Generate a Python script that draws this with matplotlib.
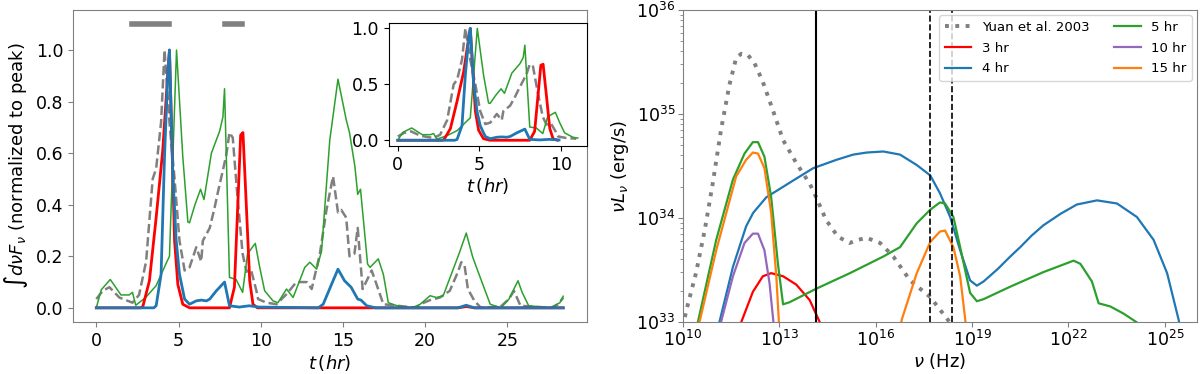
import numpy as np
import matplotlib
matplotlib.use('Agg')
import matplotlib.pyplot as plt

# ---- left panel: light curves (normalized to peak) ----
t_green = [0, 0.3, 0.85, 1.5, 2.0, 2.2, 2.4, 3.0, 3.64, 4.3, 4.45, 4.88, 5.26, 5.57,
           5.67, 6.0, 6.34, 6.55, 7.0, 7.5, 7.7, 7.8, 8.1, 8.5, 8.9, 9.2, 9.67, 9.94,
           10.24, 10.75, 11.05, 11.57, 11.97, 12.68, 12.99, 13.4, 13.7, 14.2, 14.7,
           15.2, 15.4, 15.73, 15.9, 16.07, 16.5, 16.65, 17.15, 17.46, 17.76, 18.3,
           19.2, 19.7, 20.3, 20.7, 21.1, 22.1, 22.5, 22.9, 23.35, 23.96, 24.6, 25.1,
           25.5, 25.65, 25.9, 26.3, 27.6, 28.2, 28.4]
y_green = [0.0, 0.07, 0.11, 0.05, 0.05, 0.06, 0.01, 0.04, 0.086, 0.18, 0.2, 1.0, 0.587,
           0.333, 0.33, 0.40, 0.46, 0.42, 0.6, 0.685, 0.74, 0.85, 0.118, 0.11, 0.06,
           0.21, 0.25, 0.157, 0.066, 0.027, 0.02, 0.073, 0.04, 0.157, 0.177, 0.15,
           0.22, 0.65, 0.887, 0.73, 0.68, 0.548, 0.44, 0.46, 0.17, 0.157, 0.19, 0.13,
           0.02, 0.008, 0.0, 0.014, 0.047, 0.04, 0.047, 0.216, 0.29, 0.196, 0.118,
           0.014, 0.0, 0.034, 0.086, 0.105, 0.06, 0.008, 0.0, 0.02, 0.045]

t_total = [0, 0.39, 0.8, 1.4, 2.2, 2.6, 3.03, 3.43, 3.64, 3.94, 4.15, 4.45, 4.76, 5.06,
           5.37, 5.67, 6.08, 6.38, 6.48, 6.9, 7.2, 7.4, 7.9, 8.1, 8.3, 8.6, 8.9, 9.13,
           9.4, 9.74, 9.84, 10.35, 10.96, 11.57, 12.17, 12.8, 13.1, 13.6, 14.0, 14.4,
           14.7, 14.9, 15.2, 15.4, 15.7, 15.9, 16.2, 16.75, 17.05, 17.46, 19.5, 19.7,
           20.3, 20.9, 21.5, 22.0, 22.2, 22.4, 22.6, 23.0, 23.4, 24.6, 25.1, 25.4,
           25.8, 27.7, 28.1, 28.4]
y_total = [0.034, 0.066, 0.08, 0.04, 0.02, 0.05, 0.18, 0.5, 0.54, 0.72, 1.0, 0.72, 0.5,
           0.26, 0.145, 0.157, 0.235, 0.18, 0.26, 0.31, 0.39, 0.45, 0.59, 0.68, 0.66,
           0.42, 0.21, 0.14, 0.15, 0.066, 0.034, 0.02, 0.014, 0.053, 0.1, 0.1, 0.073,
           0.21, 0.38, 0.51, 0.37, 0.38, 0.35, 0.2, 0.21, 0.31, 0.073, 0.145, 0.09,
           0.014, 0.0, 0.014, 0.03, 0.04, 0.066, 0.14, 0.177, 0.164, 0.073, 0.027, 0.0,
           0.005, 0.034, 0.066, 0.008, 0.0, 0.014, 0.04]

t_red = [0, 2.7, 2.83, 3.23, 3.64, 4.04, 4.35, 4.45, 4.76, 4.96, 5.26, 5.67, 8.1, 8.4,
         8.6, 8.78, 8.92, 9.13, 9.33, 9.53, 9.8, 22.0, 22.5, 23.0, 28.4]
y_red = [0, 0, 0.005, 0.105, 0.35, 0.61, 0.91, 1.0, 0.26, 0.09, 0.014, 0, 0, 0.08,
         0.39, 0.67, 0.68, 0.39, 0.105, 0.014, 0, 0, 0.005, 0, 0]

t_blue = [0, 3.5, 3.64, 3.94, 4.15, 4.35, 4.45, 4.65, 4.86, 5.06, 5.37, 5.67, 6.08,
          6.38, 6.7, 6.9, 7.3, 7.8, 8.1, 8.7, 9.3, 9.9, 13.5, 13.8, 14.4, 14.7, 15.1,
          15.5, 15.9, 16.1, 16.45, 17.0, 22.0, 22.5, 23.0, 28.4]
y_blue = [0, 0, 0.008, 0.13, 0.59, 0.91, 1.0, 0.52, 0.26, 0.13, 0.034, 0.014, 0.027,
          0.03, 0.027, 0.034, 0.066, 0.1, 0.008, 0.003, 0.008, 0.003, 0.0, 0.014,
          0.105, 0.15, 0.105, 0.08, 0.034, 0.03, 0.008, 0.0, 0.0, 0.01, 0.0, 0.0]

# observed flare windows (gray bars)
bar_starts = [2.2, 7.8]
bar_ends = [4.4, 8.85]
bar_level = 1.1
inset_tmax = 11.1

# ---- right panel: SEDs, log10(nu) and log10(nu L_nu) ----
lognu_yuan = [10.0, 10.10, 10.41, 10.68, 10.93, 11.19, 11.45, 11.66, 11.82, 12.02, 12.23,
              12.49, 12.8, 13.12, 13.53, 13.95, 14.15, 14.46, 14.83, 15.19, 15.45,
              15.72, 16.14, 16.55, 17.07, 17.7, 18.1, 18.3, 18.5]
logL_yuan = [32.95, 33.10, 33.47, 33.88, 34.33, 34.85, 35.28, 35.54, 35.58, 35.57, 35.49,
             35.31, 35.04, 34.75, 34.53, 34.33, 34.2, 33.98, 33.82, 33.76, 33.79,
             33.81, 33.76, 33.63, 33.4, 33.24, 33.08, 33.0, 32.85]

lognu_3hr = [11.7, 11.82, 12.18, 12.49, 12.75, 13.12, 13.53, 13.95, 14.26, 14.4]
logL_3hr = [32.8, 33.0, 33.29, 33.44, 33.47, 33.44, 33.36, 33.21, 33.0, 32.85]

lognu_4hr = [11.0, 11.14, 11.56, 11.97, 12.19, 12.6, 13.43, 14.06, 14.78, 15.3, 15.72,
             16.24, 16.76, 17.28, 17.7, 18.0, 18.32, 18.63, 18.94, 19.15, 19.36, 19.8,
             20.19, 20.5, 20.85, 21.22, 21.75, 22.26, 22.89, 23.51, 24.13, 24.65,
             25.07, 25.43, 25.5]
logL_4hr = [32.8, 33.0, 33.53, 33.92, 34.05, 34.2, 34.36, 34.48, 34.56, 34.61, 34.63,
            34.64, 34.61, 34.51, 34.41, 34.24, 34.01, 33.69, 33.4, 33.35, 33.39, 33.51,
            33.63, 33.72, 33.83, 33.93, 34.04, 34.13, 34.17, 34.14, 34.01, 33.79,
            33.47, 33.02, 32.9]

lognu_5hr = [10.4, 10.47, 11.04, 11.56, 11.92, 12.18, 12.34, 12.54, 12.75, 12.96, 13.12,
             13.32, 14.15, 15.2, 16.24, 16.76, 17.28, 17.7, 18.0, 18.16, 18.42, 18.63,
             18.94, 19.15, 19.36, 20.19, 21.22, 22.16, 22.37, 22.73, 22.94, 23.3,
             23.72, 24.11, 24.2]
logL_5hr = [32.9, 33.0, 33.79, 34.37, 34.62, 34.73, 34.73, 34.59, 34.2, 33.56, 33.17,
            33.19, 33.32, 33.47, 33.63, 33.72, 33.95, 34.08, 34.15, 34.14, 34.01, 33.72,
            33.28, 33.2, 33.22, 33.34, 33.48, 33.59, 33.56, 33.39, 33.18, 33.15,
            33.08, 33.0, 32.98]

lognu_10hr = [11.1, 11.19, 11.56, 11.92, 12.18, 12.34, 12.54, 12.7, 12.82, 12.9]
logL_10hr = [32.85, 33.0, 33.44, 33.76, 33.85, 33.85, 33.69, 33.37, 33.0, 32.7]

lognu_15hr = [10.45, 10.52, 11.04, 11.66, 11.97, 12.18, 12.34, 12.54, 12.75, 12.91,
              12.99, 13.05, 14.0, 16.0, 16.7, 16.81, 17.28, 17.7, 18.0, 18.16, 18.42,
              18.63, 18.79, 18.85]
logL_15hr = [32.9, 33.0, 33.69, 34.4, 34.56, 34.63, 34.62, 34.48, 34.05, 33.44, 33.0,
             32.5, 31.0, 31.0, 32.8, 33.02, 33.47, 33.77, 33.87, 33.88, 33.72, 33.44,
             33.02, 32.8]

# reference bands: 2.2 micron, 2 keV, 10 keV
nu_solid = 1.36e14
nu_dashed = [4.8e17, 2.4e18]

plt.rcParams['axes.edgecolor'] = 'gray'
plt.rcParams['xtick.color'] = 'gray'
plt.rcParams['ytick.color'] = 'gray'
plt.rcParams['xtick.labelcolor'] = 'black'
plt.rcParams['ytick.labelcolor'] = 'black'

fig = plt.figure(figsize=(12, 3.74), dpi=100)
ax1 = fig.add_axes([0.0608, 0.139, 0.428, 0.834])
ax2 = fig.add_axes([0.569, 0.139, 0.4285, 0.834])
axin = fig.add_axes([0.324, 0.610, 0.165, 0.329])


def draw_lc(ax, tmax=None):
    def cut(t, y):
        t = np.asarray(t, float)
        y = np.asarray(y, float)
        if tmax is None:
            return t, y
        m = t <= tmax
        return t[m], y[m]
    ax.plot(*cut(t_total, y_total), color='gray', ls='--', lw=1.8)
    ax.plot(*cut(t_green, y_green), color='tab:green', lw=1.1)
    ax.plot(*cut(t_red, y_red), color='red', lw=2)
    ax.plot(*cut(t_blue, y_blue), color='tab:blue', lw=2)


draw_lc(ax1)
for s, e in zip(bar_starts, bar_ends):
    ax1.plot([s, e], [bar_level, bar_level], color='gray', lw=4)
ax1.set_xticks([0, 5, 10, 15, 20, 25])
ax1.set_yticks([0.0, 0.2, 0.4, 0.6, 0.8, 1.0])
ax1.tick_params(labelsize=12.5)
ax1.set_xlabel(r'$t\,(hr)$', fontsize=13, labelpad=2)
ax1.set_ylabel(r'$\int d\nu F_\nu$ (normalized to peak)', fontsize=13)

draw_lc(axin, inset_tmax)
axin.set_xticks([0, 5, 10])
axin.set_yticks([0.0, 0.5, 1.0])
axin.tick_params(labelsize=12.5, colors='black')
for sp in axin.spines.values():
    sp.set_edgecolor('black')
    sp.set_linewidth(0.8)
axin.set_xlabel(r'$t\,(hr)$', fontsize=13, labelpad=2)

# SED panel
ax2.plot(10 ** np.array(lognu_yuan), 10 ** np.array(logL_yuan), color='gray', ls=':',
         lw=2.8, label='Yuan et al. 2003')
ax2.plot(10 ** np.array(lognu_3hr), 10 ** np.array(logL_3hr), color='red', lw=1.6, label='3 hr')
ax2.plot(10 ** np.array(lognu_4hr), 10 ** np.array(logL_4hr), color='tab:blue', lw=1.6, label='4 hr')
ax2.plot(10 ** np.array(lognu_5hr), 10 ** np.array(logL_5hr), color='tab:green', lw=1.6, label='5 hr')
ax2.plot(10 ** np.array(lognu_10hr), 10 ** np.array(logL_10hr), color='tab:purple', lw=1.6, label='10 hr')
ax2.plot(10 ** np.array(lognu_15hr), 10 ** np.array(logL_15hr), color='tab:orange', lw=1.6, label='15 hr')
ax2.axvline(nu_solid, color='black', lw=1.5)
for nu in nu_dashed:
    ax2.axvline(nu, color='black', ls='--', lw=1.2)
ax2.set_xscale('log')
ax2.set_yscale('log')
ax2.set_xlim(1e10, 1e26)
ax2.set_ylim(1e33, 1e36)
ax2.set_xticks([1e10, 1e13, 1e16, 1e19, 1e22, 1e25])
ax2.tick_params(labelsize=12.5, pad=2)
ax2.set_xlabel(r'$\nu$ (Hz)', fontsize=13, labelpad=1)
ax2.set_ylabel(r'$\nu L_\nu$ (erg/s)', fontsize=13)
ax2.legend(loc='upper right', ncol=2, fontsize=9.5, handlelength=2.0,
           columnspacing=1.9, borderaxespad=0.4, labelspacing=0.6)

fig.savefig('out.png', dpi=100)
